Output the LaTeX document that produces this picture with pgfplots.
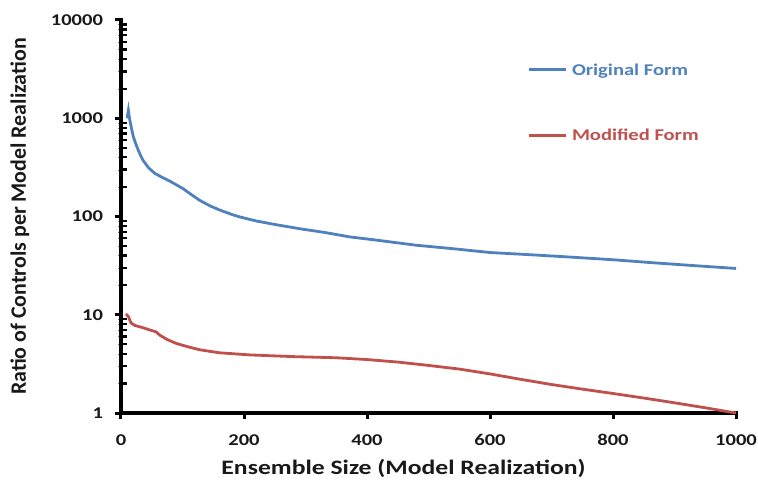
\documentclass[border=0pt]{standalone}
\usepackage{pgfplots}
\pgfplotsset{compat=1.18}
\usepackage{fontspec}
\setmainfont{Carlito}
\newfontfamily\hfont{Carlito}[FakeStretch=1.25]
\definecolor{ublue}{RGB}{79,129,189}
\definecolor{ured}{RGB}{192,80,77}
\definecolor{txt}{RGB}{25,25,25}
\begin{document}
\begin{tikzpicture}
\begin{axis}[
  scale only axis,
  width=615bp, height=393bp,
  ymode=log,
  xmin=0, xmax=1000, ymin=1, ymax=10000,
  axis lines*=left,
  axis line style={line width=4bp, black, line cap=rect},
  xtick={0,200,400,600,800,1000},
  ytick={1,10,100,1000,10000},
  yticklabels={1,10,100,1000,10000},
  minor ytick={},
  extra y ticks={2,3,4,5,6,7,8,9,20,30,40,50,60,70,80,90,200,300,400,500,600,700,800,900,2000,3000,4000,5000,6000,7000,8000,9000},
  extra y tick labels={},
  extra y tick style={tick align=inside, major tick length=6.5bp,
    every major tick/.append style={line width=2.3bp, black}},
  tick align=outside,
  major tick length=6.5bp,
  every major tick/.append style={line width=3bp, black},
  /pgf/number format/1000 sep={},
  /pgf/number format/assume math mode=true,
  ticklabel style={font=\hfont\bfseries\fontsize{16.5}{18}\selectfont, text=txt},
  xticklabel style={yshift=-11.5bp},
  yticklabel style={xshift=-8bp},
  xlabel={Ensemble Size (Model Realization)},
  ylabel={Ratio of Controls per Model Realization},
  xlabel style={font=\hfont\bfseries\fontsize{20.6}{24}\selectfont, text=txt,
    at={(axis description cs:0.5,0)}, anchor=center, xshift=-25bp, yshift=-55bp},
  ylabel style={font=\bfseries\fontsize{22}{24}\selectfont, text=txt,
    at={(axis description cs:0,0.5)}, anchor=center, yshift=101bp},
  legend style={draw=none, fill=none, at={(0.655,0.90)}, anchor=north west,
    font=\hfont\bfseries\fontsize{16.5}{18}\selectfont, row sep=48bp},
  legend cell align=left,
  legend image code/.code={\draw[#1, line width=3bp] (0bp,0bp) -- (37bp,0bp);},
]
\addplot[ublue, line width=2.8bp] coordinates {
(10,1000)(12,1200)(14,980)(17,790)(20,650)(24,550)(28,475)(32,415)(36,372)(45,312)(55,275)(66,252)(80,228)(101,192)(115,166)(128,146)(145,128)(161,116)(180,105)(193,99)(220,90)(250,83)(291,75)(330,69)(372,62)(420,57)(480,51)(540,47)(600,43)(660,41)(720,39)(800,36.3)(860,34)(920,32)(1000,29.6)
};
\addlegendentry{\textcolor{ublue}{\hspace{3bp}Original Form}}
\addplot[ured, line width=2.8bp] coordinates {
(8,10.2)(12,9.6)(16,8.3)(22,7.8)(35,7.4)(47,7.0)(57,6.7)(63,6.2)(75,5.6)(90,5.1)(110,4.7)(128,4.4)(160,4.1)(210,3.9)(280,3.75)(350,3.65)(400,3.5)(450,3.3)(500,3.05)(550,2.8)(600,2.5)(650,2.2)(700,1.95)(750,1.75)(800,1.58)(850,1.42)(900,1.27)(950,1.13)(1000,1.0)
};
\addlegendentry{\textcolor{ured}{\hspace{3bp}Modified Form}}
\coordinate (O) at (rel axis cs:0,0);
\end{axis}
\pgfresetboundingbox
\path (O) ++(-121bp,-75bp) rectangle ++(758bp,488bp);
\end{tikzpicture}
\end{document}
